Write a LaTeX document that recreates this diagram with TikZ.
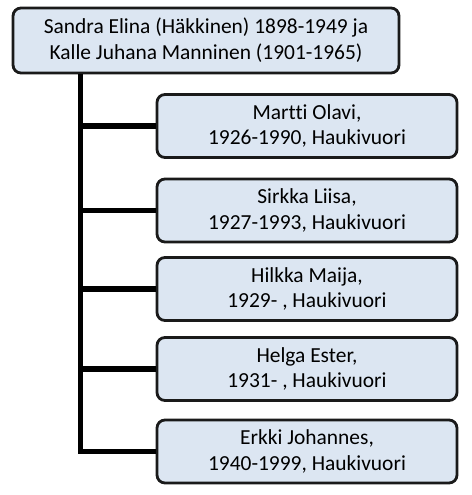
\documentclass[tikz,border=0pt]{standalone}
\usepackage{fontspec}
\setmainfont{Carlito}[Ligatures={NoCommon}]
\usetikzlibrary{positioning}
\definecolor{boxfill}{HTML}{DCE6F2}
\definecolor{boxline}{HTML}{1A1A1A}

\begin{document}
\begin{tikzpicture}[
    x=0.02cm, y=-0.02cm,
    person/.style={
        draw=boxline,
        fill=boxfill,
        line width=1.6pt,
        rounded corners=4.5pt,
        align=center,
        inner sep=0pt,
        font=\fontsize{12.2}{14.7}\selectfont
    },
    parents/.style={
        person,
        minimum width=7.72cm,
        minimum height=1.3cm
    },
    child/.style={
        person,
        minimum width=6.0cm,
        minimum height=1.26cm
    },
    branch/.style={
        line width=3pt,
        black
    }
]

% --- CANVAS ---
\useasboundingbox (0,0) rectangle (472,495);

% --- PARENTS ---
\node[parents] (couple) at (206,40.5)
    {Sandra Elina (Häkkinen) 1898-1949 ja\\Kalle Juhana Manninen (1901-1965)};

% --- CHILDREN ---
\node[child] (c1) at (307,126)   {Martti Olavi,\\1926-1990, Haukivuori};
\node[child] (c2) at (307,210.5) {Sirkka Liisa,\\1927-1993, Haukivuori};
\node[child] (c3) at (307,289)   {Hilkka Maija,\\1929- , Haukivuori};
\node[child] (c4) at (307,369)   {Helga Ester,\\1931- , Haukivuori};
\node[child] (c5) at (307,451.5) {Erkki Johannes,\\1940-1999, Haukivuori};

% --- LINES ---
\coordinate (trunk) at ([xshift=1.38cm]couple.south west);
\draw[branch] (trunk) |- (c5.west);
\foreach \i in {1,...,4}
    \draw[branch] (trunk |- c\i.west) -- (c\i.west);

\end{tikzpicture}
\end{document}
